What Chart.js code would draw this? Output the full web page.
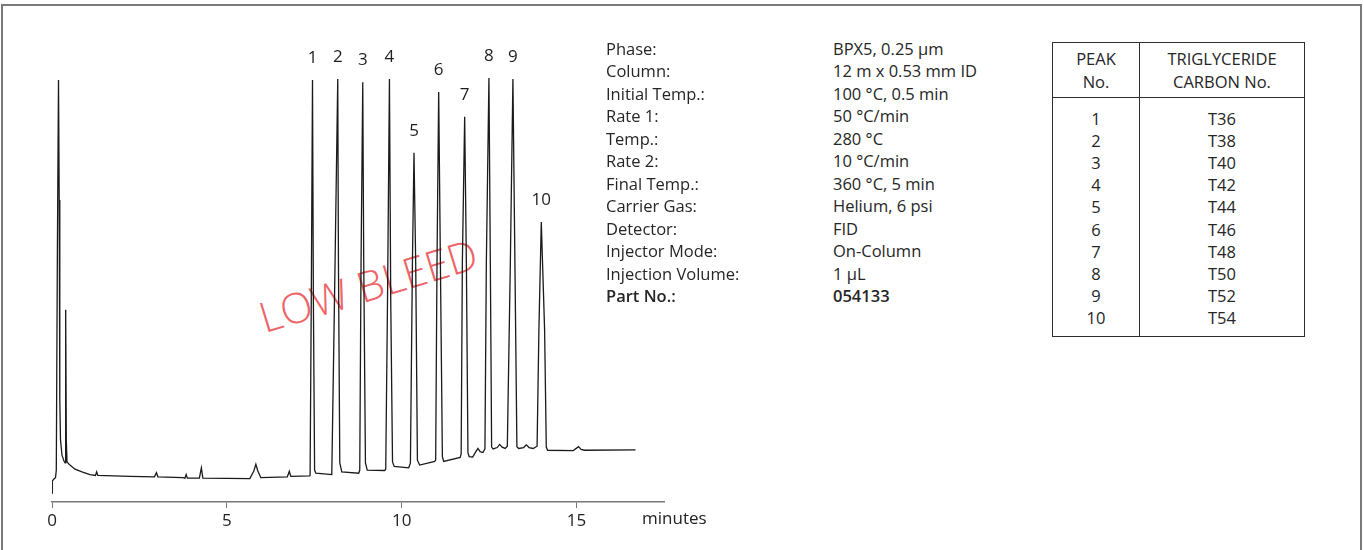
<!DOCTYPE html>
<html>
<head>
<meta charset="utf-8">
<script src="https://cdn.jsdelivr.net/npm/chart.js@4.4.1/dist/chart.umd.min.js"></script>
<style>
  html, body { margin: 0; padding: 0; background: #fff; }
  body { width: 1364px; height: 550px; position: relative; overflow: hidden; font-family: 'Open Sans', sans-serif; color: #262626; }
  #frame { position: absolute; left: 1px; top: 4px; width: 1357px; height: 600px; border: 2px solid #7a7a7a; }
  #stamp { position: absolute; left: 368px; top: 285px; transform: translate(-50%, -50%) rotate(-17deg); font-size: 42px; font-weight: 300; line-height: 1; color: #ee6468; white-space: nowrap; }
  #chartBox { position: absolute; left: 0; top: 0; width: 720px; height: 550px; }
  #unit { position: absolute; left: 642px; top: 508px; font-size: 17px; line-height: 20px; color: #222; }
  .cond { position: absolute; top: 38px; font-size: 16.5px; line-height: 22.45px; white-space: pre; }
  .cond div:last-child { font-weight: 600; }
  #tbl { position: absolute; left: 1052px; top: 42px; width: 253px; height: 295px; box-sizing: border-box; border: 1px solid #2e2e2e; }
  .rule { position: absolute; background: #2e2e2e; }
  .col { position: absolute; text-align: center; font-size: 16.5px; white-space: pre; }
</style>
</head>
<body>
<div id="frame"></div>
<div id="stamp">LOW BLEED</div>
<div id="chartBox"><canvas id="gcChart" width="720" height="550"></canvas></div>
<div id="unit">minutes</div>
<div class="cond" id="condLabels" style="left:606px"></div>
<div class="cond" id="condValues" style="left:833px"></div>
<div id="tbl"></div>
<div class="rule" style="left:1139px; top:42px; width:1px; height:295px"></div>
<div class="rule" style="left:1052px; top:97px; width:253px; height:1px"></div>
<div class="col" id="headPeak" style="left:1053px; width:86px; top:47px; line-height:23px">PEAK
No.</div>
<div class="col" id="headCarbon" style="left:1140px; width:164px; top:47px; line-height:23px">TRIGLYCERIDE
CARBON No.</div>
<div class="col" id="bodyPeak" style="left:1053px; width:86px; top:107.5px; line-height:22.2px"></div>
<div class="col" id="bodyCarbon" style="left:1140px; width:164px; top:107.5px; line-height:22.2px"></div>

<script>
// chromatogram trace, retention time (min) and detector signal (arbitrary units)
const traceTime = [0.000, 0.009, 0.057, 0.100, 0.123, 0.154, 0.186, 0.206, 0.223, 0.243, 0.286, 0.343, 0.374, 0.391, 0.409, 0.429,
  0.514, 0.657, 0.857, 1.086, 1.243, 1.277, 1.309, 2.229, 2.929, 2.986, 3.029, 3.743, 3.800, 3.837, 3.871, 4.214, 4.271, 4.314,
  5.657, 5.771, 5.829, 5.886, 5.971, 6.729, 6.786, 6.829, 7.371,
  7.380, 7.414, 7.449, 7.474, 7.509, 7.543, 8.000,
  8.094, 8.171, 8.191, 8.229, 8.286, 8.771,
  8.800, 8.837, 8.886, 8.914, 8.963, 9.014, 9.514,
  9.543, 9.594, 9.649, 9.686, 9.737, 9.786, 10.200,
  10.249, 10.306, 10.351, 10.400, 10.449, 10.514, 10.943,
  10.971, 11.009, 11.057, 11.106, 11.163, 11.200, 11.671,
  11.700, 11.734, 11.800, 11.849, 11.894, 11.929, 12.029, 12.129, 12.180, 12.243, 12.323, 12.380,
  12.420, 12.494, 12.534, 12.571, 12.614, 12.729, 12.800, 12.871, 12.957, 13.020,
  13.106, 13.180, 13.237, 13.294, 13.343, 13.486, 13.563, 13.643, 13.757, 13.871,
  13.923, 13.991, 14.086, 14.134, 14.171, 14.900, 14.971, 15.057, 15.129, 15.229, 16.686];
const traceSignal = [2.0, 4.7, 5.1, 5.4, 7.1, 56.0, 93.8, 67.1, 22.7, 13.8, 10.4, 9.1, 8.7, 42.7, 13.8, 8.9,
  8.2, 7.3, 6.7, 6.1, 5.9, 6.7, 5.9, 5.7, 5.6, 6.5, 5.6, 5.4, 5.3, 6.1, 5.3, 5.3, 7.6, 5.3,
  5.2, 6.9, 8.4, 6.9, 5.4, 5.6, 6.8, 5.7, 5.8,
  6.0, 44.9, 93.8, 44.9, 7.1, 6.4, 6.1,
  53.1, 94.0, 53.1, 8.7, 6.7, 6.4,
  7.1, 53.1, 93.3, 53.1, 8.7, 7.1, 7.0,
  7.3, 44.9, 94.0, 44.9, 8.9, 7.9, 7.6,
  8.7, 53.1, 77.6, 53.1, 9.3, 8.2, 9.0,
  9.3, 53.1, 91.1, 53.1, 10.1, 9.0, 9.9,
  10.7, 53.1, 85.6, 53.1, 10.9, 10.1, 10.0, 11.3, 11.9, 11.2, 11.0, 11.8,
  53.1, 94.2, 53.1, 12.2, 11.8, 12.1, 12.8, 12.2, 11.9, 12.4,
  53.1, 94.0, 53.1, 12.3, 11.9, 12.1, 12.7, 12.1, 11.9, 12.4,
  38.2, 62.2, 38.2, 12.2, 11.5, 11.4, 11.8, 12.3, 11.7, 11.5, 11.6];

// numbered peaks (apex times)
const peakTimes = [7.449, 8.171, 8.886, 9.649, 10.351, 11.057, 11.800, 12.494, 13.180, 13.991];
const peakLabels = ['1', '2', '3', '4', '5', '6', '7', '8', '9', '10'];

// identification table
const tablePeaks = ['1', '2', '3', '4', '5', '6', '7', '8', '9', '10'];
const tableCarbon = ['T36', 'T38', 'T40', 'T42', 'T44', 'T46', 'T48', 'T50', 'T52', 'T54'];

// conditions
const condLabels = ['Phase:', 'Column:', 'Initial Temp.:', 'Rate 1:', 'Temp.:', 'Rate 2:', 'Final Temp.:',
  'Carrier Gas:', 'Detector:', 'Injector Mode:', 'Injection Volume:', 'Part No.:'];
const condValues = ['BPX5, 0.25 µm', '12 m x 0.53 mm ID', '100 °C, 0.5 min', '50 °C/min', '280 °C', '10 °C/min',
  '360 °C, 5 min', 'Helium, 6 psi', 'FID', 'On-Column', '1 µL', '054133'];

const xTicks = [0, 5, 10, 15];

function fillLines(id, lines) {
  const el = document.getElementById(id);
  lines.forEach(t => {
    const d = document.createElement('div');
    d.textContent = t;
    el.appendChild(d);
  });
}
fillLines('condLabels', condLabels);
fillLines('condValues', condValues);
document.getElementById('bodyPeak').textContent = tablePeaks.join('\n');
document.getElementById('bodyCarbon').textContent = tableCarbon.join('\n');

const peakLabelPlugin = {
  id: 'peakLabels',
  afterDatasetsDraw(chart) {
    const meta = chart.getDatasetMeta(0);
    const c = chart.ctx;
    c.save();
    c.font = '17px "Open Sans"';
    c.fillStyle = '#1e1e1e';
    c.textAlign = 'center';
    c.textBaseline = 'alphabetic';
    peakTimes.forEach((t, i) => {
      const pt = meta.data[traceTime.indexOf(t)];
      if (pt) c.fillText(peakLabels[i], pt.x, pt.y - 17);
    });
    c.restore();
  }
};

const ctx = document.getElementById('gcChart').getContext('2d');
const gcChart = new Chart(ctx, {
  type: 'line',
  data: {
    datasets: [{
      data: traceTime.map((t, i) => ({ x: t, y: traceSignal[i] })),
      borderColor: '#1a1a1a',
      borderWidth: 1.3,
      pointRadius: 0,
      tension: 0,
      fill: false
    }]
  },
  options: {
    responsive: false,
    animation: false,
    layout: { padding: { left: 52, right: 56, top: 52, bottom: 8 } },
    plugins: { legend: { display: false }, tooltip: { enabled: false } },
    scales: {
      x: {
        type: 'linear',
        min: 0,
        max: 17.5,
        afterFit: s => { s.height = 40; },
        afterBuildTicks: s => { s.ticks = xTicks.map(v => ({ value: v })); },
        grid: { display: true, drawOnChartArea: false, drawTicks: true, tickLength: 6, color: '#777', lineWidth: 1 },
        border: { display: true, color: '#777', width: 1.5 },
        ticks: { color: '#222', padding: 3, font: { family: 'Open Sans', size: 17 }, maxRotation: 0 }
      },
      y: { display: false, min: 0, max: 100 }
    }
  },
  plugins: [peakLabelPlugin]
});
</script>
</body>
</html>
